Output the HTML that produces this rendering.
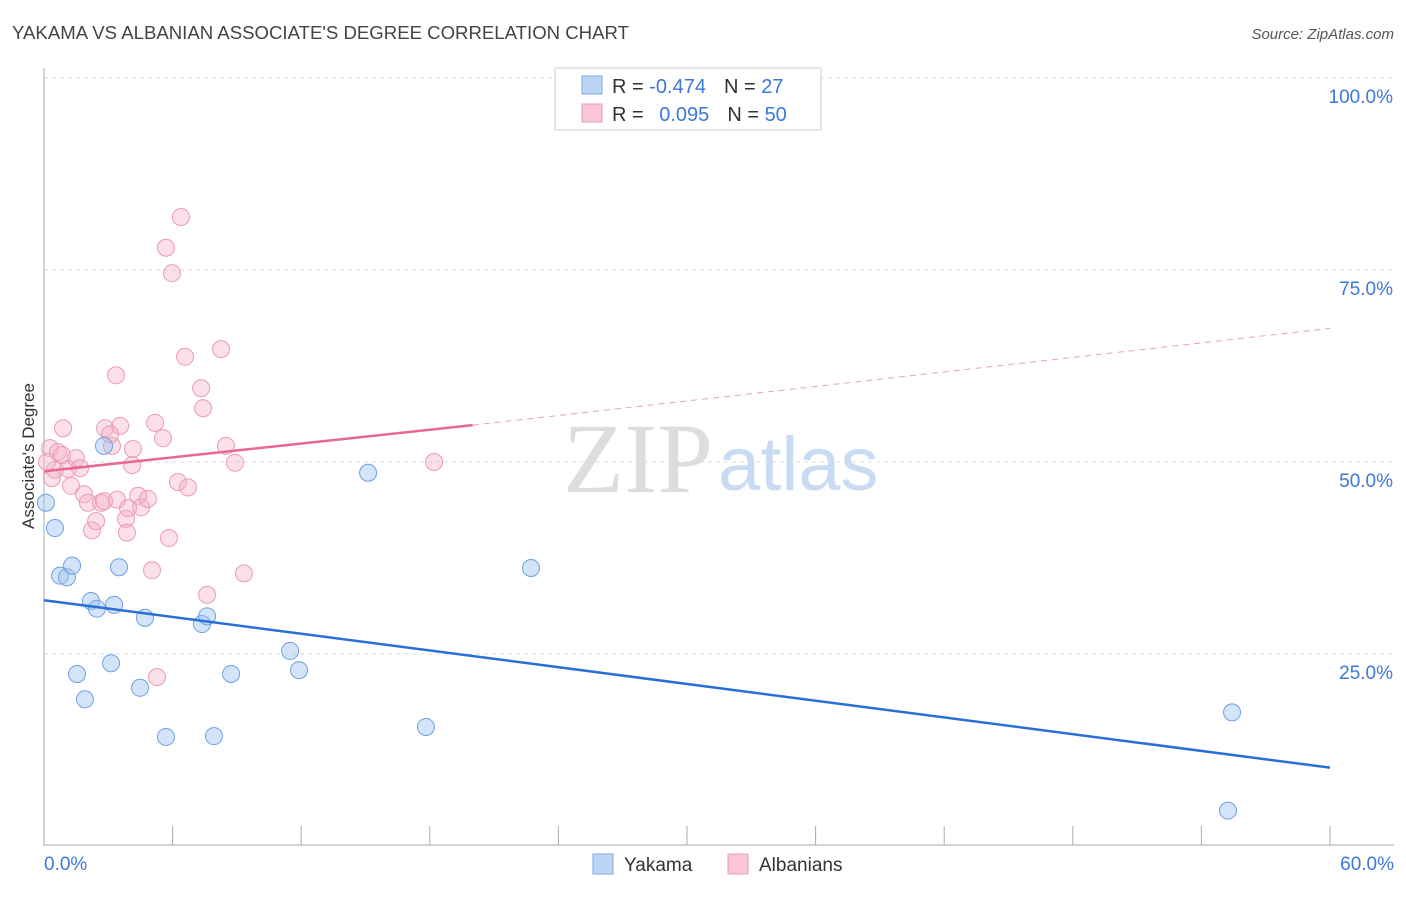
<!DOCTYPE html>
<html><head><meta charset="utf-8"><style>
body{margin:0;background:#fff;font-family:"Liberation Sans",sans-serif}
</style></head><body>
<svg id="chart" width="1406" height="892" xmlns="http://www.w3.org/2000/svg" font-family="Liberation Sans, sans-serif">
<text x="12" y="39" font-size="18.6" fill="#444">YAKAMA VS ALBANIAN ASSOCIATE'S DEGREE CORRELATION CHART</text>
<text x="1394" y="39" font-size="15" fill="#555" text-anchor="end" font-style="italic">Source: ZipAtlas.com</text>
<g>
<text x="713" y="492" font-size="100" fill="#ddd" text-anchor="end" font-family="Liberation Serif, serif">ZIP</text>
<text x="718" y="490" font-size="76" fill="#c9dbf3">atlas</text>
</g>
<g id="grid"></g>
<g id="axes"></g>
<g id="marks"></g>
<text transform="translate(34,456) rotate(-90)" font-size="17" fill="#333" text-anchor="middle">Associate's Degree</text>
<g>
<rect x="555" y="68" width="266" height="62" fill="#fff" stroke="#ccc"/>
<rect x="582" y="76" width="20" height="18" fill="#bcd5f5" stroke="#7aa7e6"/>
<rect x="582" y="104" width="20" height="18" fill="#f9c7d6" stroke="#eb9ab5"/>
<text x="612" y="93" font-size="20" fill="#333">R = <tspan fill="#3b78d8">-0.474</tspan><tspan dx="18">N = </tspan><tspan fill="#3b78d8">27</tspan></text>
<text x="612" y="121" font-size="20" fill="#333">R = <tspan dx="10" fill="#3b78d8">0.095</tspan><tspan dx="18">N = </tspan><tspan fill="#3b78d8">50</tspan></text>
</g>
<g>
<rect x="593" y="854" width="20" height="20" fill="#bcd5f5" stroke="#7aa7e6"/>
<text x="624" y="871" font-size="19" fill="#333">Yakama</text>
<rect x="728" y="854" width="20" height="20" fill="#f9c7d6" stroke="#eb9ab5"/>
<text x="759" y="871" font-size="19" fill="#333">Albanians</text>
</g>
</svg>
<script>
const yTickValues=[25,50,75,100];
const yTickLabels=["25.0%","50.0%","75.0%","100.0%"];
const xTickValues=[0,6,12,18,24,30,36,42,48,54,60];
const yakamaX=[0.09,0.51,0.75,1.07,1.31,1.54,1.91,2.19,2.47,2.80,3.13,3.27,3.50,4.48,4.71,5.69,7.37,7.61,7.93,8.73,11.48,11.90,15.12,17.82,22.72,55.43,55.24];
const yakamaY=[44.7,41.4,35.2,35.0,36.5,22.4,19.1,31.9,30.9,52.1,23.8,31.4,36.3,20.6,29.7,14.2,28.9,29.9,14.3,22.4,25.4,22.9,48.6,15.5,36.2,17.4,4.6];
const albX=[0.28,0.37,0.51,0.65,0.89,0.84,1.12,1.26,1.49,1.68,1.87,2.05,2.24,2.43,2.66,2.80,2.85,3.17,3.36,3.41,3.55,3.83,3.87,3.92,4.15,4.11,4.39,4.53,4.85,5.04,5.18,5.27,5.55,5.69,5.83,5.97,6.25,6.39,6.58,6.72,7.33,7.42,7.61,8.26,8.49,8.91,9.33,18.20,0.14,3.08];
const albY=[51.8,47.9,49.0,51.3,54.4,50.9,49.1,46.9,50.5,49.2,45.8,44.7,41.1,42.3,44.7,44.9,54.4,52.1,61.3,45.1,54.7,42.6,40.8,44.0,51.7,49.6,45.6,44.1,45.2,35.9,55.1,22.0,53.1,77.9,40.1,74.6,47.4,81.9,63.7,46.7,59.6,57.0,32.7,64.7,52.1,49.9,35.5,50.0,50.0,53.6];
const yakamaTrendX=[0,60];
const yakamaTrendY=[32.0,10.2];
const albTrendX=[0,20,60];
const albTrendY=[48.8,54.8,67.4];

const NS="http://www.w3.org/2000/svg";
const X=v=>44+v/60*1286;
const Y=v=>846-v/100*768;
function mk(tag,attrs,parent){const e=document.createElementNS(NS,tag);for(const k in attrs)e.setAttribute(k,attrs[k]);parent.appendChild(e);return e;}
const grid=document.getElementById('grid'),axes=document.getElementById('axes'),marks=document.getElementById('marks');
yTickValues.forEach((v,i)=>{
 const l=mk('line',{x1:44,x2:1394,y1:Y(v),y2:Y(v),stroke:'#ddd','stroke-dasharray':'4,4'},grid);
 
 
 const t=mk('text',{x:1393,y:Y(v)+25,'font-size':19,fill:'#3b78d8','text-anchor':'end'},axes);
 t.textContent=yTickLabels[i];
 
 
});
const al=mk('line',{x1:44,x2:44,y1:68,y2:846,stroke:'#aaa'},axes);


const bl=mk('line',{x1:44,x2:1394,y1:845,y2:845,stroke:'#aaa'},axes);


xTickValues.forEach(v=>{
 const t=mk('line',{x1:X(v),x2:X(v),y1:826,y2:845,stroke:'#aaa'},axes);
 
 
});
const x0=mk('text',{x:44,y:870,'font-size':19,fill:'#3b78d8'},axes);x0.textContent=xTickValues[0].toFixed(1)+'%';


const x1=mk('text',{x:1394,y:870,'font-size':19,fill:'#3b78d8','text-anchor':'end'},axes);x1.textContent=xTickValues[xTickValues.length-1].toFixed(1)+'%';



albX.forEach((v,i)=>{
 const c=mk('circle',{cx:X(v),cy:Y(albY[i]),r:8.5,fill:'rgba(246,176,200,0.4)',stroke:'#ec9ab6','stroke-width':1},marks);
 
 
});
yakamaX.forEach((v,i)=>{
 const c=mk('circle',{cx:X(v),cy:Y(yakamaY[i]),r:8.5,fill:'rgba(160,196,240,0.45)',stroke:'#6f9fe2','stroke-width':1},marks);
 
 
});
const yt=mk('line',{x1:X(yakamaTrendX[0]),y1:Y(yakamaTrendY[0]),x2:X(yakamaTrendX[1]),y2:Y(yakamaTrendY[1]),stroke:'#2a6fd6','stroke-width':2.5},marks);


const at=mk('line',{x1:X(albTrendX[0]),y1:Y(albTrendY[0]),x2:X(albTrendX[1]),y2:Y(albTrendY[1]),stroke:'#e8688f','stroke-width':2.5},marks);


const ad=mk('line',{x1:X(albTrendX[1]),y1:Y(albTrendY[1]),x2:X(albTrendX[2]),y2:Y(albTrendY[2]),stroke:'#e8a0b8','stroke-width':1,'stroke-dasharray':'6,5'},marks);


</script>
</body></html>
